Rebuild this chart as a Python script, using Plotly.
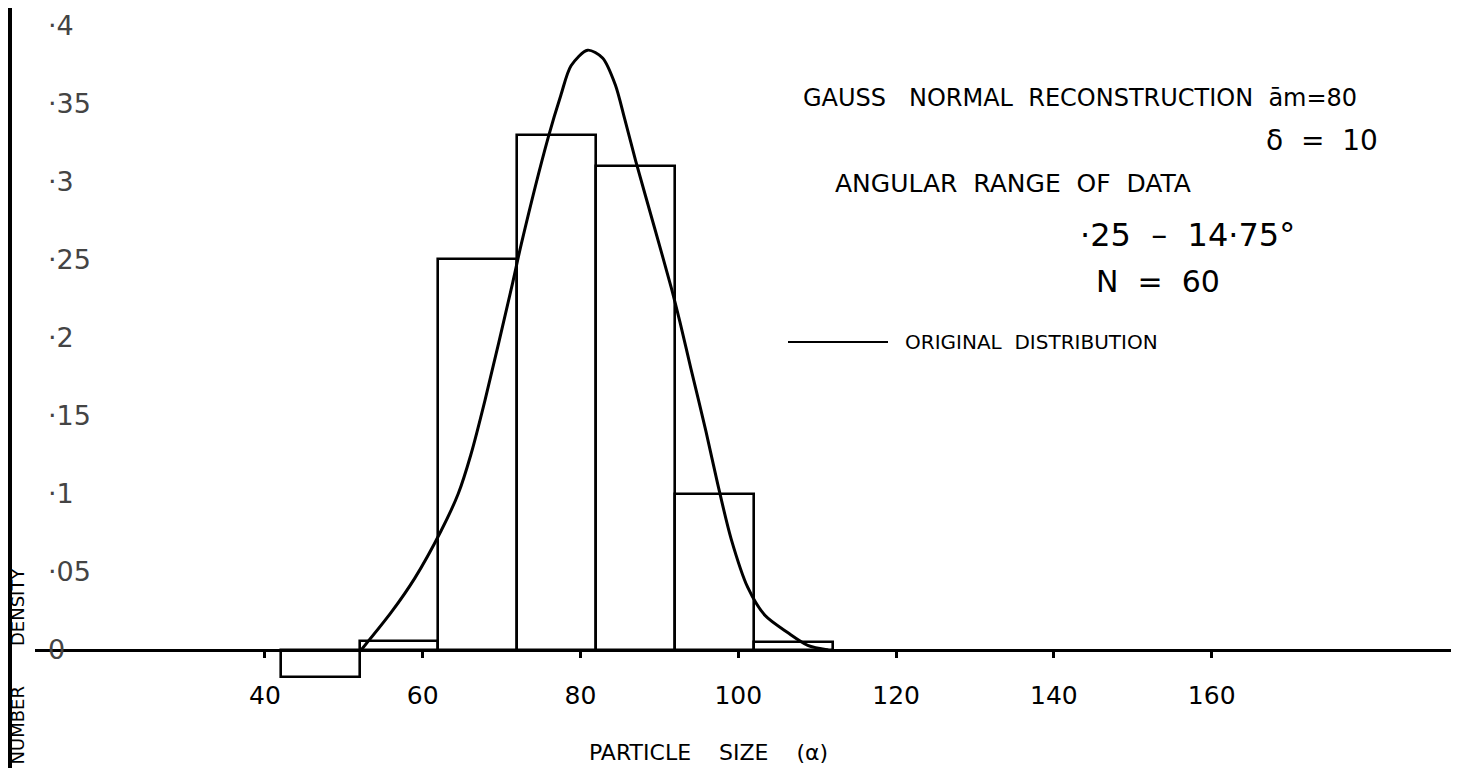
import plotly.graph_objects as go

# ---------------- data ----------------
bin_centers = [47, 57, 67, 77, 87, 97, 107]          # particle size (alpha), bin width 10
bin_values = [-0.017, 0.006, 0.25, 0.33, 0.31, 0.10, 0.005]

curve_x = [52.2, 56.0, 59.0, 62.3, 64.5, 66.1, 67.9, 71.4, 72.5, 75.9, 77.5,
           78.8, 80.9, 82.8, 84.4, 85.6, 87.0, 89.4, 91.5, 92.6, 94.0, 95.9, 97.4,
           99.1, 101.2, 103.4, 106.3, 108.8, 111.4]
curve_y = [0.0, 0.024, 0.046, 0.076, 0.100, 0.125, 0.160, 0.235, 0.260, 0.328, 0.355,
           0.374, 0.384, 0.379, 0.362, 0.340, 0.313, 0.270, 0.232, 0.210, 0.180, 0.140, 0.106,
           0.071, 0.040, 0.022, 0.011, 0.003, 0.0]

x_ticks = [40, 60, 80, 100, 120, 140, 160]
x_tick_labels = ["40", "60", "80", "100", "120", "140", "160"]
y_ticks = [0, 0.05, 0.1, 0.15, 0.2, 0.25, 0.3, 0.35, 0.4]
y_tick_labels = ["0", "·05", "·1", "·15", "·2", "·25", "·3", "·35", "·4"]

# ---------------- layout helpers ----------------
W, H = 1467, 768
FONT = "DejaVu Sans"


def px(x):
    return x / W


def py(y):
    return 1 - y / H


fig = go.Figure()

fig.add_trace(go.Bar(
    x=bin_centers, y=bin_values, width=10,
    marker=dict(color="rgba(0,0,0,0)", line=dict(color="black", width=2.6)),
    showlegend=False, hoverinfo="skip",
))

fig.add_trace(go.Scatter(
    x=curve_x, y=curve_y, mode="lines",
    line=dict(color="black", width=3, shape="spline", smoothing=0.8),
    name="ORIGINAL DISTRIBUTION", showlegend=False,
))

y_lo, y_hi = -0.0807, 0.411
zero_paper = (0 - y_lo) / (y_hi - y_lo)

fig.update_layout(
    width=W, height=H,
    margin=dict(l=0, r=0, t=0, b=0),
    paper_bgcolor="white", plot_bgcolor="white",
    font=dict(family=FONT, color="black"),
    bargap=0,
    xaxis=dict(
        domain=[px(27), px(1443)], range=[10.86, 190.33],
        anchor="free", position=zero_paper,
        showline=True, linecolor="black", linewidth=2.6,
        showgrid=False, zeroline=False,
        ticks="outside", ticklen=6, tickwidth=2.5, tickcolor="black",
        tickvals=x_ticks, ticktext=x_tick_labels,
        tickfont=dict(size=25, family=FONT), ticklabelstandoff=16,
        automargin=False,
    ),
    yaxis=dict(
        domain=[0, 1], range=[y_lo, y_hi],
        showline=False, showgrid=False, zeroline=False,
        ticks="", tickvals=y_ticks, ticktext=y_tick_labels,
        ticklabelposition="inside", ticklabelstandoff=10,
        tickfont=dict(size=27, family=FONT),
        automargin=False,
    ),
)

# scanned page edge on the left
fig.add_shape(type="line", xref="paper", yref="paper", x0=px(2), x1=px(2), y0=0, y1=1,
              line=dict(color="black", width=4))

# legend sample line
fig.add_shape(type="line", xref="paper", yref="paper", x0=px(780), x1=px(880),
              y0=py(334), y1=py(334), line=dict(color="black", width=2.2))

annotations = [
    dict(text="GAUSS   NORMAL  RECONSTRUCTION  ām=80", x=px(793), y=py(90), size=24, xanchor="left"),
    dict(text="δ  =  10", x=px(1372), y=py(132), size=28, xanchor="right"),
    dict(text="ANGULAR  RANGE  OF  DATA", x=px(825), y=py(176), size=25, xanchor="left"),
    dict(text="·25  –  14·75°", x=px(1070), y=py(227), size=32, xanchor="left"),
    dict(text="N  =  60", x=px(1086), y=py(274), size=30, xanchor="left"),
    dict(text="ORIGINAL  DISTRIBUTION", x=px(895), y=py(334), size=20, xanchor="left"),
    dict(text="PARTICLE    SIZE    (α)", x=px(700), y=py(744), size=22, xanchor="center"),
]
for a in annotations:
    fig.add_annotation(text=a["text"], x=a["x"], y=a["y"], xref="paper", yref="paper",
                       xanchor=a["xanchor"], yanchor="middle", showarrow=False,
                       font=dict(size=a["size"], family=FONT, color="black"))

# y-axis title, mostly cut off at the page edge
fig.add_annotation(text="NUMBER       DENSITY", x=px(9), y=py(558), xref="paper", yref="paper",
                   xanchor="center", yanchor="top", textangle=-90, showarrow=False,
                   font=dict(size=18, family=FONT, color="black"))

fig.write_html("out.html")
